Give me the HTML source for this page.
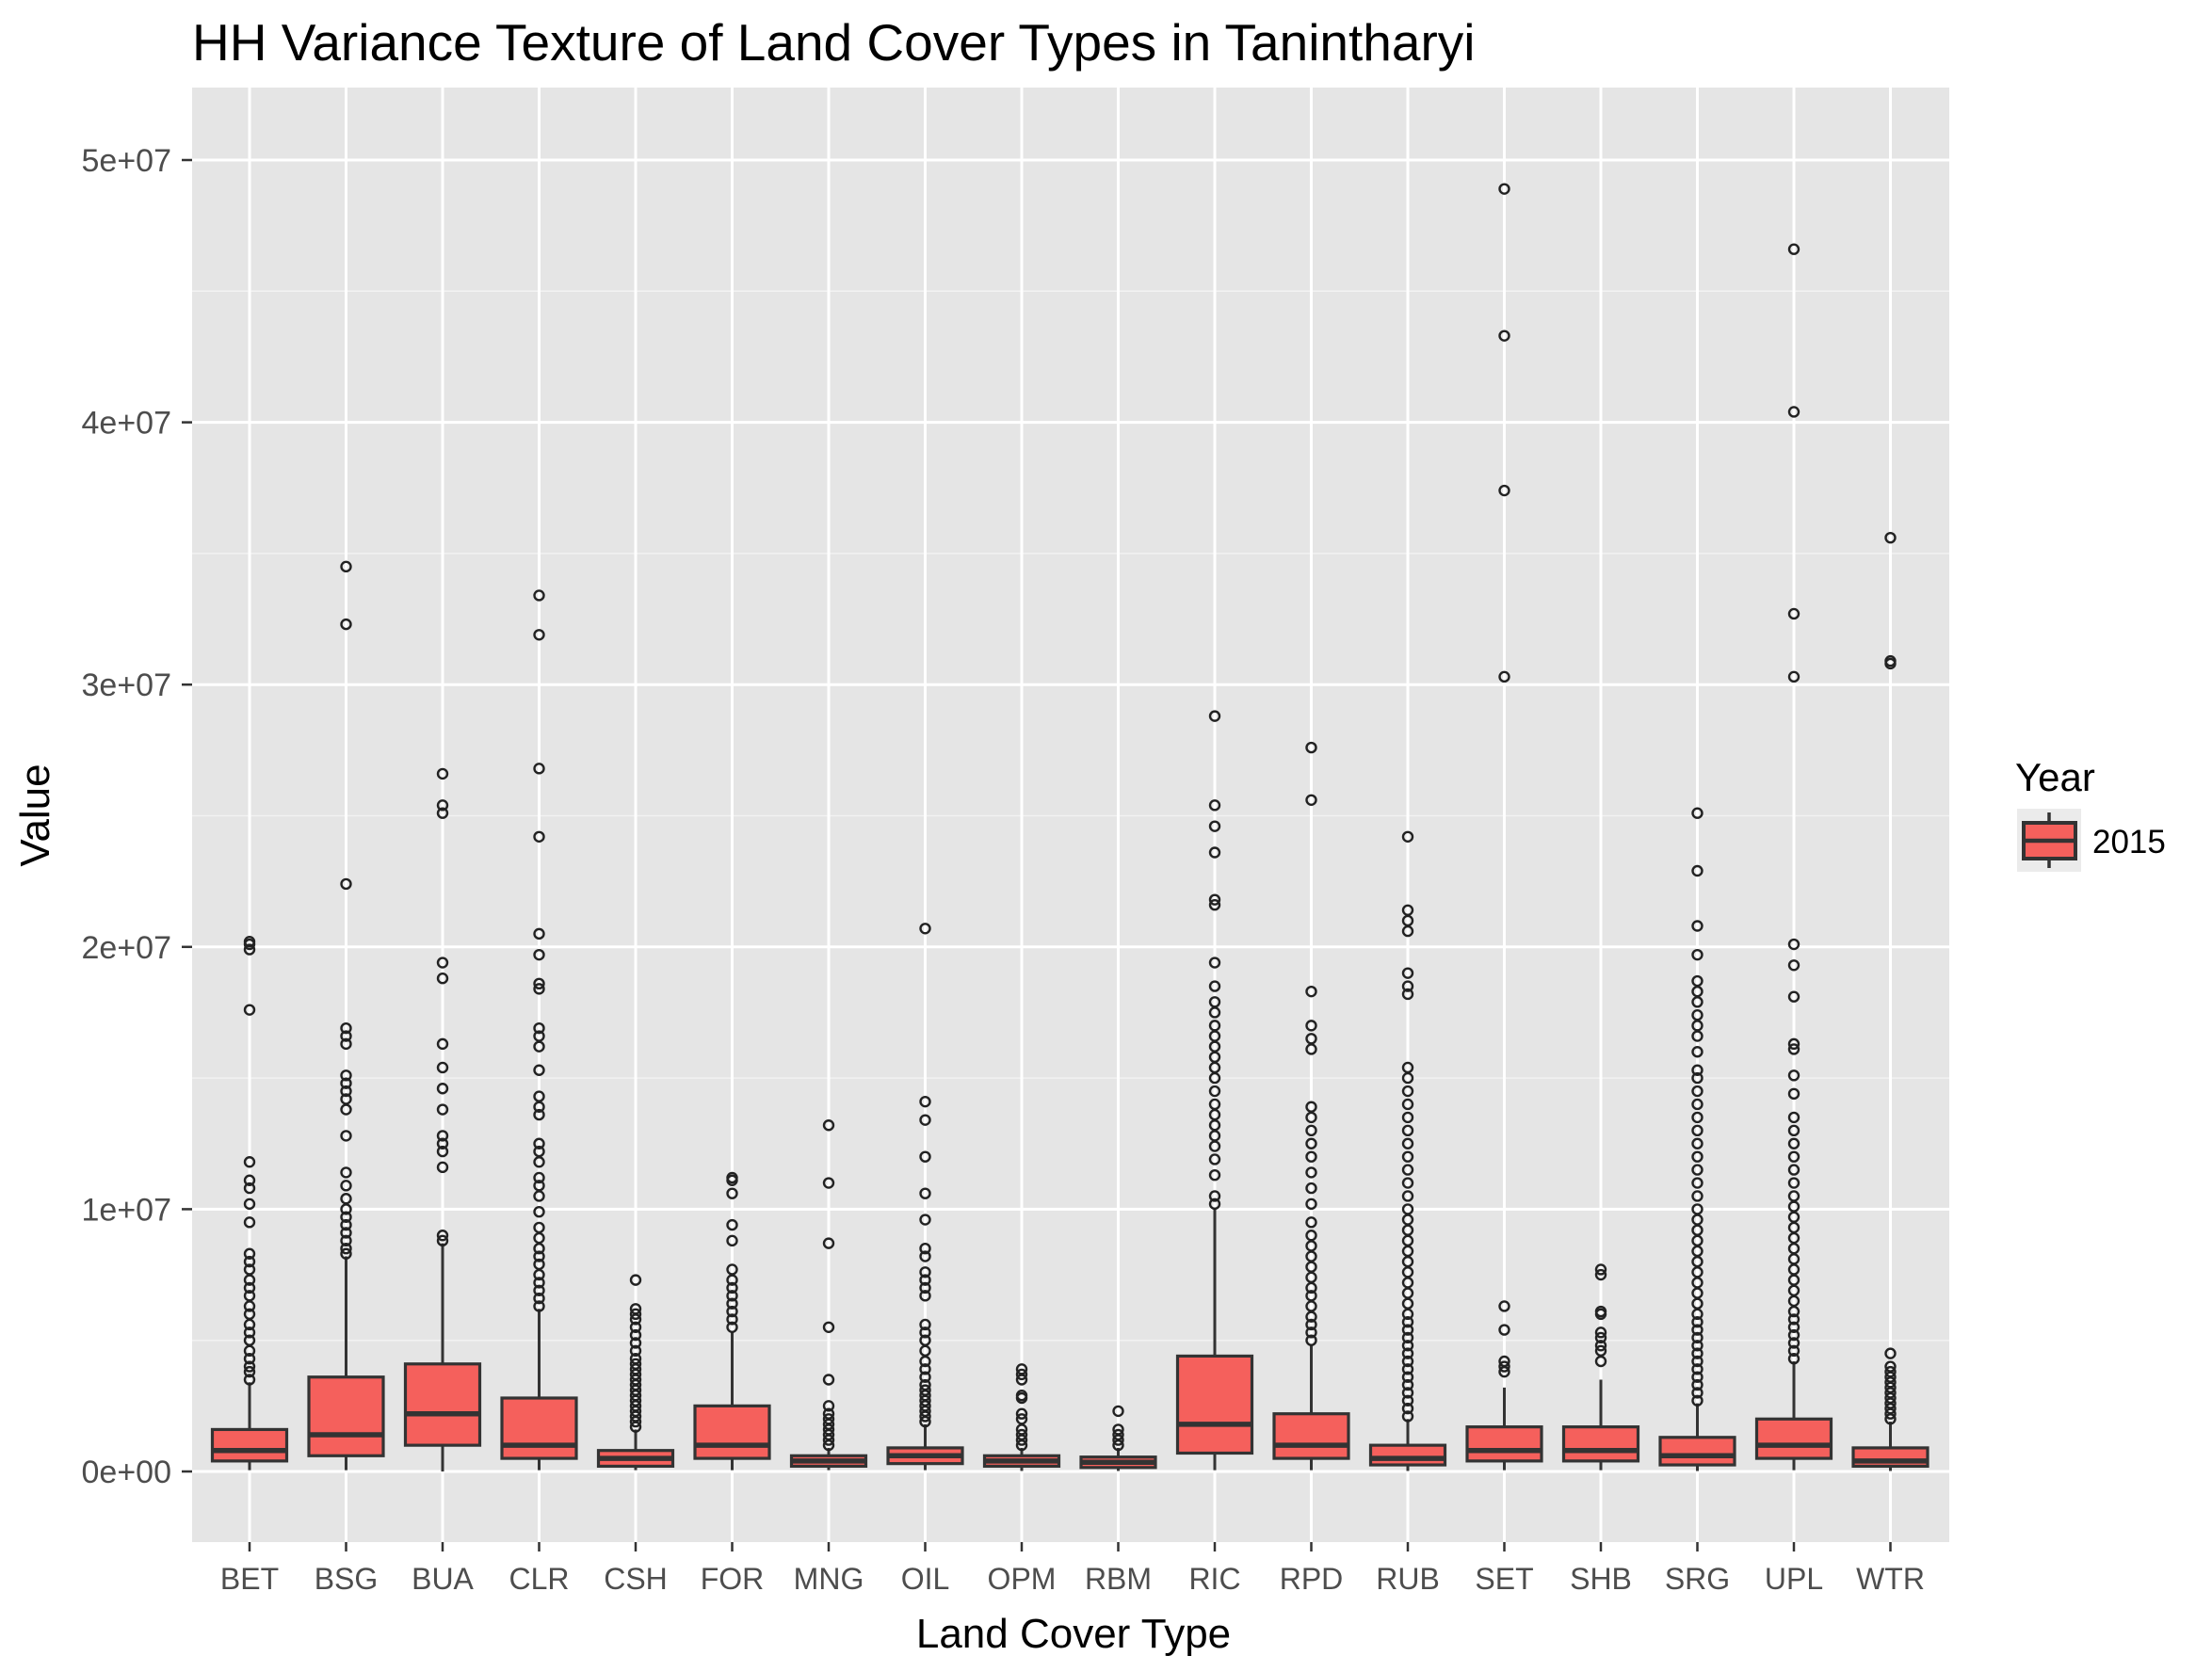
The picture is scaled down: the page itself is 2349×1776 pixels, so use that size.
<!DOCTYPE html>
<html><head><meta charset="utf-8"><style>
body{margin:0;background:#fff}
svg text{font-family:"Liberation Sans",Arial,sans-serif}
</style></head><body>
<svg id="chart" width="2349" height="1771" viewBox="0 0 2349 1771" xmlns="http://www.w3.org/2000/svg">
<rect width="2349" height="1771" fill="#fff"/>
<text x="204" y="64" font-size="55" fill="#000">HH Variance Texture of Land Cover Types in Tanintharyi</text>
<rect x="204" y="93" width="1866" height="1545" fill="#e5e5e5"/>
<g id="grid"></g><g id="marks"></g><g id="axes"></g>
<text x="1140" y="1750" font-size="44" text-anchor="middle">Land Cover Type</text>
<text transform="translate(52,866) rotate(-90)" font-size="44" text-anchor="middle">Value</text>
<text x="2140" y="840" font-size="42">Year</text>
<g>
<rect x="2142" y="859" width="68" height="67" fill="#ebebeb"/>
<line x1="2176" y1="863" x2="2176" y2="922" stroke="#333" stroke-width="3.5"/>
<rect x="2149" y="874" width="55" height="38" fill="#F5605C" stroke="#333" stroke-width="4"/>
<line x1="2149" y1="893" x2="2204" y2="893" stroke="#333" stroke-width="4.5"/>
<text x="2222" y="906" font-size="35">2015</text>
</g>
</svg>
<script>
const categories=["BET","BSG","BUA","CLR","CSH","FOR","MNG","OIL","OPM","RBM","RIC","RPD","RUB","SET","SHB","SRG","UPL","WTR"];
const q1=[0.4,0.6,1.0,0.5,0.2,0.5,0.2,0.3,0.2,0.15,0.7,0.5,0.25,0.4,0.4,0.25,0.5,0.2];
const med=[0.8,1.4,2.2,1.0,0.5,1.0,0.4,0.6,0.4,0.35,1.8,1.0,0.5,0.8,0.8,0.6,1.0,0.4];
const q3=[1.6,3.6,4.1,2.8,0.8,2.5,0.6,0.9,0.6,0.55,4.4,2.2,1.0,1.7,1.7,1.3,2.0,0.9];
const whiskerLow=[0.05,0.05,0,0.05,0.05,0.05,0.05,0.05,0.02,0.02,0.05,0.05,0.02,0.05,0.05,0.02,0.05,0.02];
const whiskerHigh=[3.4,8.2,8.7,6.2,1.6,5.3,0.9,1.8,0.9,0.9,10.0,4.8,2.0,3.2,3.5,2.6,4.2,1.9];
const outliers=[
[3.5,3.8,4.0,4.3,4.6,5.0,5.3,5.6,6.0,6.3,6.7,7.0,7.3,7.7,8.0,8.3,9.5,10.2,10.8,11.1,11.8,17.6,19.9,20.1,20.2],
[8.3,8.5,8.8,9.1,9.4,9.7,10.0,10.4,10.9,11.4,12.8,13.8,14.2,14.5,14.8,15.1,16.3,16.6,16.9,22.4,32.3,34.5],
[8.8,9.0,11.6,12.2,12.5,12.8,13.8,14.6,15.4,16.3,18.8,19.4,25.1,25.4,26.6],
[6.3,6.6,6.9,7.2,7.5,7.9,8.2,8.5,8.9,9.3,9.9,10.5,10.9,11.2,11.8,12.2,12.5,13.6,13.9,14.3,15.3,16.2,16.6,16.9,18.4,18.6,19.7,20.5,24.2,26.8,31.9,33.4],
[1.7,1.9,2.1,2.3,2.5,2.7,2.9,3.1,3.3,3.5,3.7,3.9,4.1,4.3,4.6,4.9,5.2,5.5,5.8,6.0,6.2,7.3],
[5.5,5.8,6.1,6.4,6.7,7.0,7.3,7.7,8.8,9.4,10.6,11.1,11.2],
[1.0,1.2,1.4,1.6,1.8,2.0,2.2,2.5,3.5,5.5,8.7,11.0,13.2],
[1.9,2.1,2.3,2.5,2.7,2.9,3.1,3.3,3.6,3.9,4.2,4.6,5.0,5.3,5.6,6.7,7.0,7.3,7.6,8.2,8.5,9.6,10.6,12.0,13.4,14.1,20.7],
[1.0,1.2,1.4,1.6,2.0,2.2,2.8,2.9,3.5,3.7,3.9],
[1.0,1.2,1.4,1.6,2.3],
[10.2,10.5,11.3,11.9,12.4,12.8,13.2,13.6,14.0,14.5,15.0,15.4,15.8,16.2,16.6,17.0,17.5,17.9,18.5,19.4,21.6,21.8,23.6,24.6,25.4,28.8],
[5.0,5.3,5.6,5.9,6.3,6.7,7.0,7.4,7.8,8.2,8.6,9.0,9.5,10.2,10.8,11.4,12.0,12.5,13.0,13.5,13.9,16.1,16.5,17.0,18.3,25.6,27.6],
[2.1,2.4,2.7,3.0,3.3,3.6,3.9,4.2,4.5,4.8,5.1,5.4,5.7,6.0,6.4,6.8,7.2,7.6,8.0,8.4,8.8,9.2,9.6,10.0,10.5,11.0,11.5,12.0,12.5,13.0,13.5,14.0,14.5,15.0,15.4,18.2,18.5,19.0,20.6,21.0,21.4,24.2],
[3.8,4.0,4.2,5.4,6.3,30.3,37.4,43.3,48.9],
[4.2,4.6,4.8,5.1,5.3,6.0,6.1,7.5,7.7],
[2.7,3.0,3.3,3.6,3.9,4.2,4.5,4.8,5.1,5.4,5.7,6.0,6.4,6.8,7.2,7.6,8.0,8.4,8.8,9.2,9.6,10.0,10.5,11.0,11.5,12.0,12.5,13.0,13.5,14.0,14.5,15.0,15.3,16.0,16.6,17.0,17.4,17.9,18.3,18.7,19.7,20.8,22.9,25.1],
[4.3,4.6,4.9,5.2,5.5,5.8,6.1,6.5,6.9,7.3,7.7,8.1,8.5,8.9,9.3,9.7,10.1,10.5,11.0,11.5,12.0,12.5,13.0,13.5,14.4,15.1,16.1,16.3,18.1,19.3,20.1,30.3,32.7,40.4,46.6],
[2.0,2.2,2.4,2.6,2.8,3.0,3.2,3.4,3.6,3.8,4.0,4.5,30.8,30.9,35.6]
];
const yTicks=[0,10,20,30,40,50];
const yTickLabels=["0e+00","1e+07","2e+07","3e+07","4e+07","5e+07"];
const NS="http://www.w3.org/2000/svg";
const Y0=1563,PER=27.86;
const y=v=>Y0-v*PER;
const x=i=>265+i*102.5;
const BW=79;
function mk(tag,attrs,parent){const e=document.createElementNS(NS,tag);for(const k in attrs)e.setAttribute(k,attrs[k]);document.getElementById(parent).appendChild(e);return e;}
yTicks.forEach((t,i)=>{
  if(i<yTicks.length-1){const m=mk('line',{x1:204,x2:2070,y1:y(t+5),y2:y(t+5),stroke:'#f2f2f2','stroke-width':1.5},'grid');
  
  }
  const g=mk('line',{x1:204,x2:2070,y1:y(t),y2:y(t),stroke:'#fff','stroke-width':3},'grid');
  
  
  mk('line',{x1:193,x2:204,y1:y(t),y2:y(t),stroke:'#333','stroke-width':2.5},'axes');
  const tx=mk('text',{x:182,y:y(t)+12,'font-size':34,'text-anchor':'end',fill:'#4d4d4d'},'axes');
  tx.textContent=yTickLabels[i];
  
  
});
categories.forEach((c,i)=>{
  const cx=x(i);
  const g=mk('line',{x1:cx,x2:cx,y1:93,y2:1638,stroke:'#fff','stroke-width':3},'grid');
  
  
  mk('line',{x1:cx,x2:cx,y1:1638,y2:1648,stroke:'#333','stroke-width':2.5},'axes');
  const t=mk('text',{x:cx,y:1688,'font-size':32,'text-anchor':'middle',fill:'#4d4d4d'},'axes');
  t.textContent=c;
  
  
  const w=mk('line',{x1:cx,x2:cx,y1:y(whiskerLow[i]),y2:y(whiskerHigh[i]),stroke:'#333','stroke-width':3},'marks');
  
  
  const b=mk('rect',{x:cx-BW/2,y:y(q3[i]),width:BW,height:y(q1[i])-y(q3[i]),fill:'#F5605C',stroke:'#333','stroke-width':3.2},'marks');
  
  
  const m=mk('line',{x1:cx-BW/2,x2:cx+BW/2,y1:y(med[i]),y2:y(med[i]),stroke:'#333','stroke-width':5.5},'marks');
  
  
  outliers[i].forEach(v=>{
    const o=mk('circle',{cx:cx,cy:y(v),r:5,fill:'none',stroke:'#222','stroke-width':2.4},'marks');
    
    
  });
});
</script>
</body></html>
